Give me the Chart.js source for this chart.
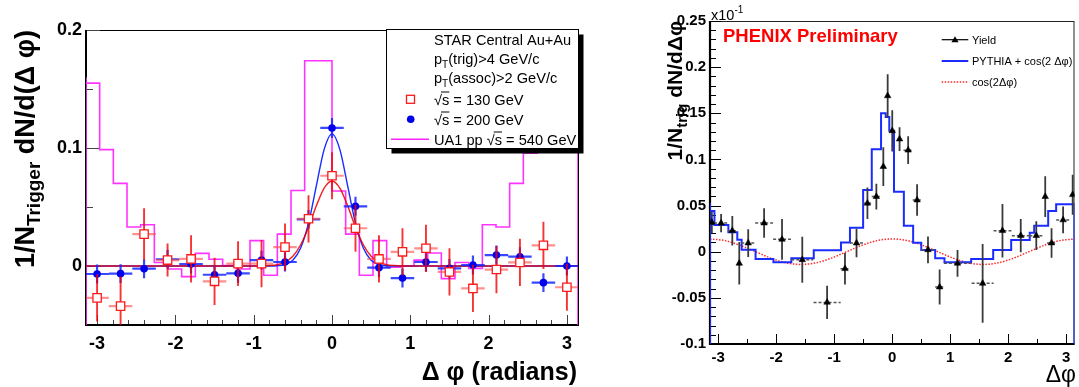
<!DOCTYPE html>
<html>
<head>
<meta charset="utf-8">
<title>Azimuthal correlations</title>
<script src="https://cdn.jsdelivr.net/npm/chart.js@4.4.1/dist/chart.umd.min.js"></script>
<style>
  body { margin: 0; background: #fff; }
  #wrap { position: relative; width: 1079px; height: 387px; overflow: hidden; }
  #starCanvas { position: absolute; left: 0; top: 0; }
  #phenixCanvas { position: absolute; left: 620px; top: 0; }
</style>
</head>
<body>
<div id="wrap">
  <canvas id="starCanvas" width="620" height="387"></canvas>
  <canvas id="phenixCanvas" width="459" height="387"></canvas>
</div>
<script>
const FONT = "'Liberation Sans', Arial, Helvetica, sans-serif";
const PI = Math.PI;

// ---- left panel: STAR central Au+Au ----
const starPhi = [-3.0, -2.7, -2.4, -2.1, -1.8, -1.5, -1.2, -0.9, -0.6, -0.3, 0.0, 0.3, 0.6, 0.9, 1.2, 1.5, 1.8, 2.1, 2.4, 2.7, 3.0];
const star130 = [-0.027, -0.034, 0.027, 0.005, 0.006, -0.013, 0.002, 0.002, 0.016, 0.040, 0.0765, 0.032, 0.006, 0.012, 0.015, -0.005, -0.019, -0.003, 0.003, 0.0175, -0.018];
const star130Err = [0.02, 0.025, 0.022, 0.014, 0.02, 0.02, 0.019, 0.02, 0.02, 0.02, 0.02, 0.02, 0.02, 0.02, 0.02, 0.02, 0.02, 0.02, 0.02, 0.02, 0.02];
const star200 = [-0.0068, -0.0065, -0.0023, 0.0057, 0.0017, -0.0074, -0.0062, 0.005, 0.0034, 0.0395, 0.117, 0.0506, -0.0014, -0.0102, 0.0034, -0.002, 0.0008, 0.0093, 0.0079, -0.0141, 0.0];
const star200Err = [0.008, 0.008, 0.008, 0.008, 0.008, 0.008, 0.008, 0.008, 0.008, 0.008, 0.0085, 0.008, 0.008, 0.008, 0.008, 0.008, 0.008, 0.008, 0.008, 0.008, 0.008];
const starHalfBin = 0.15;

// UA1 pp histogram, 36 bins of 10 degrees
const ua1Values = [0.160, 0.155, 0.0986, 0.070, 0.033, 0.035, 0.003, -0.0025, -0.009, 0.0107, 0.0057, 0.0003,
                   -0.0025, 0.0215, -0.0079, 0.027, 0.064, 0.174, 0.174, 0.0636, 0.027, -0.0078, 0.0215, -0.001,
                   0.0, 0.005, 0.011, -0.0107, 0.003, -0.002, 0.035, 0.033, 0.070, 0.0955, 0.155, 0.160];

// gaussian fits
const fitPhi = [-PI, -1.2, -1.0, -0.9, -0.8, -0.7, -0.6, -0.5, -0.4, -0.3, -0.2, -0.1, 0, 0.1, 0.2, 0.3, 0.4, 0.5, 0.6, 0.7, 0.8, 0.9, 1.0, 1.2, PI];
const fit200 = [0, 0, 0, 0, 0, 0.0002, 0.0012, 0.0049, 0.0152, 0.0363, 0.0679, 0.0988, 0.112, 0.0988, 0.0679, 0.0363, 0.0152, 0.0049, 0.0012, 0.0002, 0, 0, 0, 0, 0];
const fit130 = [0, 0, 0, 0.0001, 0.0004, 0.0011, 0.0032, 0.0082, 0.018, 0.0329, 0.051, 0.066, 0.072, 0.066, 0.051, 0.0329, 0.018, 0.0082, 0.0032, 0.0011, 0.0004, 0.0001, 0, 0, 0];

const starXTicks = [-3, -2, -1, 0, 1, 2, 3];
const starYTicks = [0, 0.1, 0.2];
const starYLabels = ['0', '0.1', '0.2'];

// ---- right panel: PHENIX ----
const phenixPhi = [-3.11, -2.95, -2.757, -2.637, -2.483, -2.209, -1.90, -1.551, -1.123, -0.815, -0.616, -0.428, -0.274, -0.154, -0.079,
                   0.0, 0.126, 0.274, 0.428, 0.616, 0.817, 1.125, 1.558, 1.90, 2.215, 2.483, 2.637, 2.746, 2.945, 3.11];
const phenixYield = [0.0319, 0.031, 0.0228, -0.0126, 0.0094, 0.031, 0.0134, -0.0087, -0.0549, -0.0184, 0.0094, 0.0525, 0.0597, 0.0922, 0.1689,
                     0.131, 0.122, 0.110, 0.056, 0.002, -0.0383, -0.0126, -0.0343, 0.0228, 0.0174, 0.0174, 0.0597, 0.0094, 0.0344, 0.0618];
const phenixErr = [0.012, 0.010, 0.016, 0.023, 0.015, 0.016, 0.022, 0.025, 0.018, 0.017, 0.0155, 0.017, 0.014, 0.021, 0.0235,
                   0.0224, 0.013, 0.015, 0.017, 0.0145, 0.019, 0.0145, 0.0427, 0.029, 0.018, 0.0155, 0.022, 0.016, 0.0145, 0.0217];
const phenixHalfBin = [0.038, 0.12, 0.077, 0.038, 0.12, 0.154, 0.154, 0.19, 0.234, 0.077, 0.113, 0.075, 0.08, 0.04, 0.031,
                       0.051, 0.04, 0.08, 0.075, 0.113, 0.077, 0.234, 0.19, 0.154, 0.154, 0.12, 0.038, 0.077, 0.12, 0.038];

const pythiaEdges = [-PI, -3.065, -2.825, -2.671, -2.596, -2.356, -2.048, -1.740, -1.353, -0.884, -0.729, -0.502, -0.353, -0.193, -0.113, -0.051,
                     0.03, 0.2, 0.36, 0.5, 0.74, 0.9, 1.36, 1.74, 2.05, 2.37, 2.447, 2.688, 2.825, 3.055, PI];
const pythiaValues = [0.053, 0.044, 0.029, 0.021, 0.013, 0.002, -0.008, -0.0115, -0.0072, 0.0015, 0.010, 0.026, 0.067, 0.111, 0.150,
                      0.146, 0.131, 0.065, 0.028, 0.0098, 0.0018, -0.0072, -0.0115, -0.0079, 0.0018, 0.0127, 0.0206, 0.028, 0.044, 0.0514];

// cos(2 dphi) component, sampled every 15 degrees
const cosPhi = [-PI, -11*PI/12, -5*PI/6, -3*PI/4, -2*PI/3, -7*PI/12, -PI/2, -5*PI/12, -PI/3, -PI/4, -PI/6, -PI/12, 0,
                PI/12, PI/6, PI/4, PI/3, 5*PI/12, PI/2, 7*PI/12, 2*PI/3, 3*PI/4, 5*PI/6, 11*PI/12, PI];
const cosValues = [0.0138, 0.012, 0.0069, 0, -0.0069, -0.012, -0.0138, -0.012, -0.0069, 0, 0.0069, 0.012, 0.0138,
                   0.012, 0.0069, 0, -0.0069, -0.012, -0.0138, -0.012, -0.0069, 0, 0.0069, 0.012, 0.0138];

const phenixXTicks = [-3, -2, -1, 0, 1, 2, 3];
const phenixYTicks = [-0.1, -0.05, 0, 0.05, 0.1, 0.15, 0.2, 0.25];
const phenixYLabels = ['-0.1', '-0.05', '0', '0.05', '0.1', '0.15', '0.2', '0.25'];

// ---------- helpers ----------
function pts(xs, ys) { return xs.map((x, i) => ({ x: x, y: ys[i] })); }

// histogram outline: goes down to the frame bottom at both ends (ROOT style)
function histPoints(edges, values, floor) {
  const out = [{ x: edges[0], y: floor }];
  values.forEach((v, i) => out.push({ x: edges[i], y: v }));
  out.push({ x: edges[edges.length - 1], y: values[values.length - 1] });
  out.push({ x: edges[edges.length - 1], y: floor });
  return out;
}

function fnt(size, bold) { return (bold ? 'bold ' : '') + size + 'px ' + FONT; }

function richWidth(ctx, parts) {
  let w = 0;
  parts.forEach(p => { ctx.font = fnt(p.size, p.bold); w += ctx.measureText(p.t).width; });
  return w;
}
function drawRich(ctx, parts, x, y) {
  let cx = x;
  parts.forEach(p => {
    ctx.font = fnt(p.size, p.bold);
    ctx.fillText(p.t, cx, y + (p.dy || 0));
    cx += ctx.measureText(p.t).width;
  });
}
function drawVertTitle(ctx, parts, baseX, topY) {
  ctx.save();
  ctx.translate(baseX, topY);
  ctx.rotate(-PI / 2);
  ctx.textAlign = 'left';
  ctx.textBaseline = 'alphabetic';
  drawRich(ctx, parts, -richWidth(ctx, parts), 0);
  ctx.restore();
}

// error bars drawn just before the markers of a dataset
function errorBars(specs) {
  return {
    id: 'errorBars',
    beforeDatasetDraw(chart, args) {
      const s = specs[args.index];
      if (!s) return;
      const { ctx, chartArea: a, scales: { x, y } } = chart;
      ctx.save();
      ctx.beginPath();
      ctx.rect(a.left, a.top, a.right - a.left, a.bottom - a.top);
      ctx.clip();
      // horizontal
      ctx.strokeStyle = s.hColor; ctx.lineWidth = s.hWidth; ctx.setLineDash(s.hDash || []);
      ctx.beginPath();
      s.xs.forEach((xv, i) => {
        const py = y.getPixelForValue(s.ys[i]);
        const ex = Array.isArray(s.ex) ? s.ex[i] : s.ex;
        ctx.moveTo(x.getPixelForValue(xv - ex), py);
        ctx.lineTo(x.getPixelForValue(xv + ex), py);
      });
      ctx.stroke();
      // vertical
      ctx.setLineDash([]);
      ctx.strokeStyle = s.vColor; ctx.lineWidth = s.vWidth;
      ctx.beginPath();
      s.xs.forEach((xv, i) => {
        const px = x.getPixelForValue(xv);
        ctx.moveTo(px, y.getPixelForValue(s.ys[i] - s.ey[i]));
        ctx.lineTo(px, y.getPixelForValue(s.ys[i] + s.ey[i]));
      });
      ctx.stroke();
      ctx.restore();
    }
  };
}

function tickLine(ctx, x1, y1, x2, y2) { ctx.moveTo(x1, y1); ctx.lineTo(x2, y2); }

// ---------- STAR chart ----------
const starFrame = {
  id: 'starFrame',
  beforeDatasetsDraw(chart) {
    const { ctx, chartArea: a, scales: { x, y } } = chart;
    ctx.save();
    ctx.strokeStyle = '#000'; ctx.lineWidth = 1;
    ctx.strokeRect(a.left + 0.5, a.top + 0.5, a.right - a.left, a.bottom - a.top);
    ctx.strokeStyle = '#444';
    ctx.beginPath();
    starYTicks.forEach(v => { const py = Math.round(y.getPixelForValue(v)) + 0.5; tickLine(ctx, a.left, py, a.left + 14, py); });
    [0.05, 0.15].forEach(v => { const py = Math.round(y.getPixelForValue(v)) + 0.5; tickLine(ctx, a.left, py, a.left + 7, py); });
    for (let k = -15; k <= 15; k++) {
      const v = k * 0.2;
      const px = Math.round(x.getPixelForValue(v)) + 0.5;
      const len = (k % 5 === 0) ? 10 : 5;
      tickLine(ctx, px, a.bottom, px, a.bottom - len);
    }
    ctx.stroke();
    ctx.strokeStyle = '#000'; ctx.lineWidth = 2;
    ctx.beginPath();
    ctx.moveTo(a.left, a.top); ctx.lineTo(a.left, a.bottom); ctx.lineTo(a.right, a.bottom);
    ctx.stroke();
    ctx.restore();
  },
  afterDraw(chart) {
    const ctx = chart.ctx;
    ctx.save();
    ctx.fillStyle = '#000';
    // axis titles
    drawVertTitle(ctx, [
      { t: '1/N', size: 27, bold: true },
      { t: 'Trigger', size: 19, bold: true, dy: 6 },
      { t: ' dN/d(\u0394 \u03c6)', size: 27, bold: true }
    ], 34, 30);
    ctx.font = fnt(25, true);
    ctx.textAlign = 'right';
    ctx.fillText('\u0394 \u03c6 (radians)', 577, 380);

    // legend box with shadow
    ctx.fillStyle = '#000';
    ctx.fillRect(391.5, 34.5, 192, 119);
    ctx.fillStyle = '#fff';
    ctx.fillRect(386.5, 29.5, 192, 119);
    ctx.strokeStyle = '#000'; ctx.lineWidth = 1;
    ctx.strokeRect(386.5, 29.5, 192, 119);

    ctx.fillStyle = '#000';
    ctx.textAlign = 'left';
    const tx = 434;
    const fs = 14.6;
    drawRich(ctx, [{ t: 'STAR Central Au+Au', size: fs }], tx, 45);
    drawRich(ctx, [{ t: 'p', size: fs }, { t: 'T', size: 10, dy: 4 }, { t: '(trig)>4 GeV/c', size: fs }], tx, 63.5);
    drawRich(ctx, [{ t: 'p', size: fs }, { t: 'T', size: 10, dy: 4 }, { t: '(assoc)>2 GeV/c', size: fs }], tx, 83);
    const sqrtRow = (pre, post, bx, by) => {
      ctx.font = fnt(fs, false);
      const w0 = ctx.measureText(pre).width;
      const wr = ctx.measureText('\u221a').width;
      const ws = ctx.measureText('s').width;
      ctx.fillText(pre + '\u221as' + post, bx, by);
      ctx.beginPath();
      ctx.lineWidth = 1; ctx.strokeStyle = '#000';
      ctx.moveTo(bx + w0 + wr - 1, by - 12.5); ctx.lineTo(bx + w0 + wr + ws, by - 12.5);
      ctx.stroke();
    };
    sqrtRow('', ' = 130 GeV', tx, 104.5);
    sqrtRow('', ' = 200 GeV', tx, 124.5);
    sqrtRow('UA1 pp ', ' = 540 GeV', tx, 144.5);

    // legend markers
    ctx.fillStyle = '#fff'; ctx.strokeStyle = '#ff1a1a'; ctx.lineWidth = 1.3;
    ctx.fillRect(406.5, 95.3, 8, 8); ctx.strokeRect(406.5, 95.3, 8, 8);
    ctx.fillStyle = '#0000ee';
    ctx.beginPath(); ctx.arc(410.7, 119.3, 3.8, 0, 2 * PI); ctx.fill();
    ctx.strokeStyle = '#ff22ff'; ctx.lineWidth = 1.6;
    ctx.beginPath(); ctx.moveTo(391, 139.3); ctx.lineTo(429, 139.3); ctx.stroke();
    ctx.restore();
  }
};

new Chart(document.getElementById('starCanvas'), {
  type: 'scatter',
  data: {
    datasets: [
      { label: '130 GeV', data: pts(starPhi, star130), showLine: false, pointStyle: 'rect', pointRadius: 5.9,
        pointBackgroundColor: '#fff', pointBorderColor: '#ff1a1a', pointBorderWidth: 1.3, order: 1 },
      { label: '200 GeV', data: pts(starPhi, star200), showLine: false, pointStyle: 'circle', pointRadius: 3.8,
        pointBackgroundColor: '#0000ee', pointBorderColor: '#0000ee', pointBorderWidth: 0, order: 2 },
      { label: 'fit 130', data: pts(fitPhi, fit130), showLine: true, pointRadius: 0, borderColor: 'rgba(235,0,0,0.85)',
        borderWidth: 1.5, cubicInterpolationMode: 'monotone', order: 3 },
      { label: 'fit 200', data: pts(fitPhi, fit200), showLine: true, pointRadius: 0, borderColor: '#1a2cff',
        borderWidth: 1.4, cubicInterpolationMode: 'monotone', order: 4 },
      { label: 'UA1 pp', data: histPoints(ua1Values.map((v, k) => -PI + k * PI / 18).concat([PI]), ua1Values, -0.05),
        showLine: true, stepped: 'after', pointRadius: 0, borderColor: '#ff33ff', borderWidth: 1.6, order: 5 }
    ]
  },
  options: {
    responsive: false, animation: false, devicePixelRatio: 1,
    layout: { padding: { left: 0, right: 42, top: 30, bottom: 0 } },
    plugins: { legend: { display: false }, tooltip: { enabled: false } },
    scales: {
      x: {
        type: 'linear', min: -PI, max: PI,
        grid: { display: false, drawTicks: false }, border: { display: false },
        afterBuildTicks: s => { s.ticks = starXTicks.map(v => ({ value: v })); },
        afterFit: s => { s.height = 62; },
        ticks: { autoSkip: false, maxRotation: 0, padding: 8, color: '#000',
                 font: { family: FONT, size: 18, weight: 'bold' }, callback: v => String(v) }
      },
      y: {
        type: 'linear', min: -0.05, max: 0.2,
        grid: { display: false, drawTicks: false }, border: { display: false },
        afterBuildTicks: s => { s.ticks = starYTicks.map(v => ({ value: v })); },
        afterFit: s => { s.width = 86; },
        ticks: { padding: 4, color: '#000', font: { family: FONT, size: 18, weight: 'bold' },
                 callback: (v, i) => starYLabels[i] }
      }
    }
  },
  plugins: [starFrame, errorBars({
    0: { xs: starPhi, ys: star130, ex: starHalfBin, ey: star130Err,
         hColor: 'rgba(255,70,70,0.6)', hWidth: 2.2, vColor: 'rgba(245,0,0,0.8)', vWidth: 1.9 },
    1: { xs: starPhi, ys: star200, ex: starHalfBin, ey: star200Err,
         hColor: 'rgba(20,40,255,0.85)', hWidth: 2.2, vColor: 'rgba(20,40,255,0.85)', vWidth: 2.2 }
  })]
});

// ---------- PHENIX chart ----------
const phenixFrame = {
  id: 'phenixFrame',
  beforeDatasetsDraw(chart) {
    const { ctx, chartArea: a, scales: { x, y } } = chart;
    ctx.save();
    ctx.strokeStyle = '#222'; ctx.lineWidth = 1;
    ctx.strokeRect(a.left + 0.5, a.top + 0.5, a.right - a.left - 1, a.bottom - a.top);
    ctx.strokeStyle = '#000';
    ctx.beginPath();
    for (let k = -10; k <= 25; k++) {
      const py = Math.round(y.getPixelForValue(k / 100)) + 0.5;
      tickLine(ctx, a.left, py, a.left + ((k % 5 === 0) ? 11 : 6), py);
    }
    for (let k = -6; k <= 6; k++) {
      const px = Math.round(x.getPixelForValue(k / 2)) + 0.5;
      tickLine(ctx, px, a.bottom, px, a.bottom - ((k % 2 === 0) ? 10 : 5));
    }
    ctx.stroke();
    ctx.lineWidth = 2.2;
    ctx.beginPath();
    ctx.moveTo(a.left, a.top); ctx.lineTo(a.left, a.bottom); ctx.lineTo(a.right, a.bottom);
    ctx.stroke();
    ctx.restore();
  },
  afterDraw(chart) {
    const ctx = chart.ctx;
    ctx.save();
    ctx.fillStyle = '#000';
    drawVertTitle(ctx, [
      { t: '1/N', size: 21, bold: true },
      { t: 'trig', size: 15, bold: true, dy: 5 },
      { t: ' dN/d\u0394\u03c6', size: 21, bold: true }
    ], 62, 21);
    ctx.textAlign = 'left';
    drawRich(ctx, [{ t: 'x10', size: 14.5 }, { t: '-1', size: 10, dy: -7 }], 91, 20);
    ctx.font = fnt(23, false);
    ctx.textAlign = 'right';
    ctx.fillText('\u0394\u03c6', 456, 382);

    ctx.textAlign = 'left';
    ctx.fillStyle = '#ff0000';
    ctx.font = fnt(18.5, true);
    ctx.fillText('PHENIX Preliminary', 103, 42);

    // legend
    ctx.fillStyle = '#000';
    ctx.font = fnt(11, false);
    ctx.fillText('Yield', 352, 43.7);
    ctx.fillText('PYTHIA + cos(2 \u0394\u03c6)', 352, 65);
    ctx.fillText('cos(2\u0394\u03c6)', 352, 86);
    ctx.strokeStyle = '#000'; ctx.lineWidth = 1.2;
    ctx.beginPath(); ctx.moveTo(321.7, 39.7); ctx.lineTo(348.3, 39.7); ctx.stroke();
    ctx.beginPath(); ctx.moveTo(335, 36.2); ctx.lineTo(338.6, 42.2); ctx.lineTo(331.4, 42.2); ctx.closePath(); ctx.fill();
    ctx.strokeStyle = '#1a2cff'; ctx.lineWidth = 2;
    ctx.beginPath(); ctx.moveTo(321.7, 61); ctx.lineTo(348.3, 61); ctx.stroke();
    ctx.strokeStyle = '#ff2a2a'; ctx.lineWidth = 1.5; ctx.setLineDash([1.5, 1.5]);
    ctx.beginPath(); ctx.moveTo(321.7, 82); ctx.lineTo(348.3, 82); ctx.stroke();
    ctx.restore();
  }
};

new Chart(document.getElementById('phenixCanvas'), {
  type: 'scatter',
  data: {
    datasets: [
      { label: 'Yield', data: pts(phenixPhi, phenixYield), showLine: false, pointStyle: 'triangle', pointRadius: 3.8,
        pointBackgroundColor: '#000', pointBorderColor: '#000', pointBorderWidth: 0.5, order: 1 },
      { label: 'PYTHIA + cos(2 \u0394\u03c6)', data: histPoints(pythiaEdges, pythiaValues, -0.1), showLine: true, stepped: 'after',
        pointRadius: 0, borderColor: '#1a2cff', borderWidth: 2, order: 2 },
      { label: 'cos(2\u0394\u03c6)', data: pts(cosPhi, cosValues), showLine: true, pointRadius: 0, borderColor: '#ff2a2a',
        borderWidth: 1.5, borderDash: [1.5, 1.5], cubicInterpolationMode: 'monotone', order: 3 }
    ]
  },
  options: {
    responsive: false, animation: false, devicePixelRatio: 1,
    layout: { padding: { left: 0, right: 2, top: 21, bottom: 0 } },
    plugins: { legend: { display: false }, tooltip: { enabled: false } },
    scales: {
      x: {
        type: 'linear', min: -PI, max: PI,
        grid: { display: false, drawTicks: false }, border: { display: false },
        afterBuildTicks: s => { s.ticks = phenixXTicks.map(v => ({ value: v })); },
        afterFit: s => { s.height = 43; },
        ticks: { autoSkip: false, maxRotation: 0, padding: 5, color: '#000',
                 font: { family: FONT, size: 15, weight: 'bold' }, callback: v => String(v) }
      },
      y: {
        type: 'linear', min: -0.1, max: 0.25,
        grid: { display: false, drawTicks: false }, border: { display: false },
        afterBuildTicks: s => { s.ticks = phenixYTicks.map(v => ({ value: v })); },
        afterFit: s => { s.width = 90; },
        ticks: { padding: 4, color: '#000', font: { family: FONT, size: 15, weight: 'bold' },
                 callback: (v, i) => phenixYLabels[i] }
      }
    }
  },
  plugins: [phenixFrame, errorBars({
    0: { xs: phenixPhi, ys: phenixYield, ex: phenixHalfBin, ey: phenixErr,
         hColor: '#555', hWidth: 1.5, hDash: [3, 2], vColor: '#3a3a3a', vWidth: 1.8 }
  })]
});
</script>
</body>
</html>
